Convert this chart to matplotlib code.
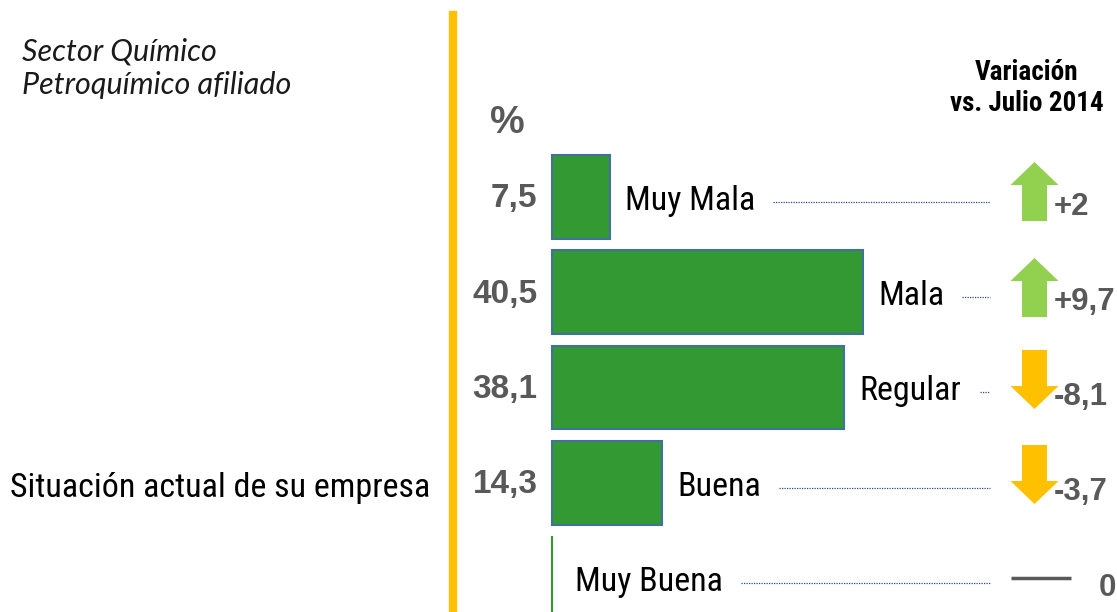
import matplotlib
matplotlib.use("Agg")
import matplotlib.pyplot as plt
import numpy as np
from matplotlib.path import Path
from matplotlib import font_manager

# data
categorias = ["Muy Mala", "Mala", "Regular", "Buena", "Muy Buena"]
valores = [7.5, 40.5, 38.1, 14.3, 0.0]
valores_txt = ["7,5", "40,5", "38,1", "14,3", ""]
variacion = [2.0, 9.7, -8.1, -3.7, 0.0]
variacion_txt = ["+2", "+9,7", "-8,1", "-3,7", "0"]

nombres = {f.name for f in font_manager.fontManager.ttflist}
NARROW = [n for n in ["Liberation Sans Narrow", "Roboto Condensed", "Arial Narrow"]
          if n in nombres]
if NARROW:
    TAM = 24.5
    TAM_HEAD = 19.5
else:
    NARROW = ["Roboto", "DejaVu Sans"]
    TAM = 23
    TAM_HEAD = 17
SANS = ["Liberation Sans", "DejaVu Sans"]
GRIS = "#595959"
VERDE = "#339933"
VERDE_CLARO = "#92D050"
AMARILLO = "#FFC000"

fig = plt.figure(figsize=(11.17, 6.12), dpi=100)
ax = fig.add_axes([0, 0, 1, 1])
ax.set_xlim(-71.9, 73.6)
ax.set_ylim(4.357, -2.068)
ax.axis("off")

y = np.arange(len(categorias))
edges = ["#41719C" if v > 0 else VERDE for v in valores]
ax.barh(y, valores, height=0.88, color=VERDE, edgecolor=edges, linewidth=1.5)

# yellow separator
ax.axvline(-12.9, ymin=0, ymax=0.975, color=AMARILLO, lw=6)

# up / down arrow markers
up = Path([(0, 29.5), (24, 6.5), (12.5, 6.5), (12.5, -29.5), (-12.5, -29.5),
           (-12.5, 6.5), (-24, 6.5), (0, 29.5)],
          [Path.MOVETO] + [Path.LINETO] * 6 + [Path.CLOSEPOLY])
down = Path(up.vertices * np.array([1, -1]), up.codes)

x_flecha = 62.8
x_var = 65.4
labels = []
for i, (cat, v, vt, d, dt) in enumerate(zip(categorias, valores, valores_txt,
                                               variacion, variacion_txt)):
    if vt:
        ax.text(-1.9, i + 0.02, vt, ha="right", va="center", fontsize=24,
                fontweight="bold", color=GRIS, family=SANS)
    t = ax.text(v + 2.0 + (1.0 if v == 0 else 0), i + 0.04, cat, ha="left",
                va="center", fontsize=TAM, color="black", family=NARROW)
    labels.append(t)
    if d > 0:
        ax.plot(x_flecha, i - 0.06, marker=up, markersize=42.5, color=VERDE_CLARO,
                mec="none", ls="none")
    elif d < 0:
        ax.plot(x_flecha, i - 0.09, marker=down, markersize=42.5, color=AMARILLO,
                mec="none", ls="none")
    else:
        ax.plot(x_flecha + 0.9, i, marker="_", markersize=43, mew=2.5, color=GRIS,
                ls="none")
    xv = x_var if d != 0 else 71.2
    ax.text(xv, i + 0.1, dt, ha="left", va="center", fontsize=22.5,
            fontweight="bold", color=GRIS, family=SANS)

# dotted leader lines from labels to arrows
fig.canvas.draw()
r = fig.canvas.get_renderer()
inv = ax.transData.inverted()
for i, t in enumerate(labels):
    bb = t.get_window_extent(r)
    x0 = inv.transform((bb.x1 + 18, 0))[0]
    ax.plot([x0, 57.0], [i + 0.05, i + 0.05], color="#2F4A8A", lw=0.9,
            ls=(0, (1, 1)))

# texts
ax.text(-70.6, 3.05, "Situación actual de su empresa", ha="left",
        va="center", fontsize=TAM, family=NARROW)
ax.text(-5.8, -0.78, "%", ha="center", va="center", fontsize=28,
        fontweight="bold", color=GRIS, family=SANS)
ax.text(61.8, -1.145, "Variación\nvs. Julio 2014", ha="center", va="center",
        fontsize=TAM_HEAD, fontweight="bold", color="black", family=NARROW,
        linespacing=1.2)
ax.text(-69.0, -1.35, "Sector Químico\nPetroquímico afiliado", ha="left",
        va="center", fontsize=22, style="italic", color="#1a1a1a",
        family=["Lato", "DejaVu Sans"], linespacing=1.25)

fig.savefig("out.png", dpi=100)
